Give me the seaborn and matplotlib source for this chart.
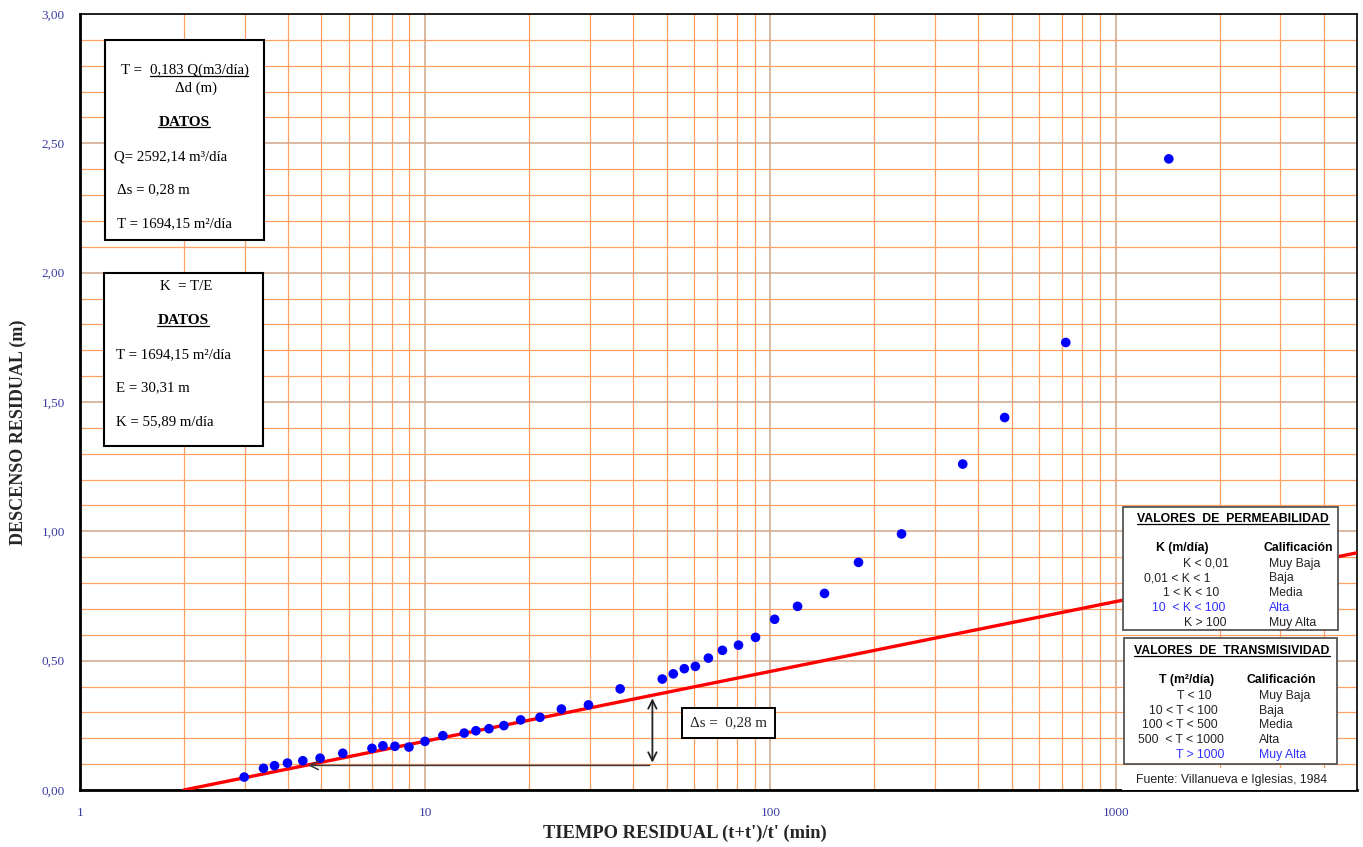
import matplotlib
matplotlib.use('Agg')
import matplotlib.pyplot as plt
import seaborn as sns
import pandas as pd
from matplotlib.ticker import FixedLocator, FuncFormatter, MultipleLocator, NullFormatter
from matplotlib.patches import Rectangle
from matplotlib.lines import Line2D

# ---------------- data ----------------
tiempo = [2.99, 3.40, 3.66, 3.99, 4.42, 4.96, 5.77, 7.01, 7.54, 8.17, 8.97, 9.98,
          11.25, 12.97, 14.02, 15.3, 16.9, 18.9, 21.5, 24.8, 29.7, 36.7, 48.6,
          52.3, 56.3, 60.6, 66.1, 72.6, 80.8, 90.5, 102.8, 119.8, 143.4, 179.9,
          239.7, 360.5, 476.8, 716.8, 1425.0]
descenso = [0.050, 0.084, 0.094, 0.104, 0.113, 0.123, 0.142, 0.161, 0.171, 0.169,
            0.166, 0.188, 0.210, 0.220, 0.229, 0.237, 0.249, 0.271, 0.281, 0.313,
            0.329, 0.391, 0.429, 0.449, 0.469, 0.478, 0.510, 0.540, 0.560, 0.590,
            0.660, 0.710, 0.760, 0.880, 0.990, 1.260, 1.440, 1.730, 2.440]
recta_x = [2.0, 5000.0]
recta_y = [0.0, 0.917]
delta_x = [4.5, 45.5]
delta_y = [0.095, 0.365]
x_ticks = [1, 10, 100, 1000]
x_ticklabels = ["1", "10", "100", "1000"]
y_ticks = [0.0, 0.5, 1.0, 1.5, 2.0, 2.5, 3.0]

perm_rangos = ["K < 0,01", "0,01 < K < 1", "1 < K < 10", "10  < K < 100", "K > 100"]
perm_calif = ["Muy Baja", "Baja", "Media", "Alta", "Muy Alta"]
trans_rangos = ["T < 10", "10 < T < 100", "100 < T < 500", "500  < T < 1000", "T > 1000"]
trans_calif = ["Muy Baja", "Baja", "Media", "Alta", "Muy Alta"]

# ---------------- style ----------------
sns.set_style("white")
plt.rcParams['font.family'] = ['Liberation Serif', 'DejaVu Serif']

W, H = 1363, 847
fig = plt.figure(figsize=(W / 100, H / 100), dpi=100)
AX_L, AX_R, AX_T, AX_B = 80, 1357, 14, 790
ax = fig.add_axes([AX_L / W, 1 - AX_B / H, (AX_R - AX_L) / W, (AX_B - AX_T) / H])


def axp(px, py):
    return ((px - AX_L) / (AX_R - AX_L), (AX_B - py) / (AX_B - AX_T))


ax.set_xscale('log')
ax.set_xlim(1, 5000)
ax.set_ylim(0, 3)

# grid
orange = '#FFA062'
brown = '#CFA587'
ax.xaxis.set_major_locator(FixedLocator(x_ticks))
ax.xaxis.set_minor_locator(FixedLocator([m * 10 ** e for e in range(0, 4) for m in range(2, 10) if m * 10 ** e < 5000]))
ax.xaxis.set_minor_formatter(NullFormatter())
ax.yaxis.set_major_locator(FixedLocator(y_ticks))
ax.yaxis.set_minor_locator(MultipleLocator(0.1))
ax.grid(which='major', color=brown, lw=1.1, zorder=0)
ax.grid(which='minor', color=orange, lw=0.9, zorder=0)
ax.set_axisbelow(True)

ax.xaxis.set_major_formatter(FuncFormatter(lambda v, p: x_ticklabels[x_ticks.index(int(round(v)))] if int(round(v)) in x_ticks else ""))
ax.yaxis.set_major_formatter(FuncFormatter(lambda v, p: f"{v:.2f}".replace('.', ',')))
ax.tick_params(which='both', length=0)
ax.tick_params(axis='y', pad=11, labelsize=9.5, labelcolor='#3B3BA0')
ax.tick_params(axis='x', pad=12, labelsize=9.5, labelcolor='#3B3BA0')

for s in ax.spines.values():
    s.set_color('black')
    s.set_linewidth(1.2)
ax.spines['left'].set_linewidth(2)
ax.spines['bottom'].set_linewidth(2)

# data
df_pts = pd.DataFrame({'t': tiempo, 's': descenso})
df_line = pd.DataFrame({'t': recta_x, 's': recta_y})
sns.lineplot(data=df_line, x='t', y='s', color='#FF0000', lw=2.4, ax=ax, zorder=3)
sns.scatterplot(data=df_pts, x='t', y='s', color='#0000FF', s=48, edgecolor='none', ax=ax, zorder=4)
ax.set_xlabel('')
ax.set_ylabel('')

# delta arrows
ax.annotate('', xy=(delta_x[0], delta_y[0]), xytext=(delta_x[1], delta_y[0]),
            arrowprops=dict(arrowstyle='->', color='#3A3A3A', lw=1.1, mutation_scale=15), zorder=5)
ax.annotate('', xy=(delta_x[1], delta_y[1]), xytext=(delta_x[1], delta_y[0]),
            arrowprops=dict(arrowstyle='<->', color='#222222', lw=1.3, mutation_scale=15), zorder=5)
ax.text(75.5, 0.259, "\u0394s =  0,28 m", fontsize=10.8, ha='center', va='center', zorder=6,
        bbox=dict(boxstyle='square,pad=0.55', fc='white', ec='black', lw=1.4))

# axis titles
fig.text(18 / W, 1 - 432 / H, "DESCENSO RESIDUAL (m)", rotation=90, ha='center', va='center',
         fontsize=13, fontweight='bold')
fig.text(685 / W, 1 - 833 / H, "TIEMPO RESIDUAL (t+t')/t' (min)", ha='center', va='center',
         fontsize=13.3, fontweight='bold')


def rect(px0, py0, px1, py1, ec='black', lw=1.5, z=6):
    x0, y1 = axp(px0, py0)
    x1, y0 = axp(px1, py1)
    ax.add_patch(Rectangle((x0, y0), x1 - x0, y1 - y0, transform=ax.transAxes,
                           fc='white', ec=ec, lw=lw, zorder=z, clip_on=False))


def txt(px, py, s, ha='left', size=10.7, weight='normal', color='black', family=None, z=7):
    x, y = axp(px, py)
    kw = {}
    if family:
        kw['family'] = family
    return ax.text(x, y, s, transform=ax.transAxes, ha=ha, va='center', fontsize=size,
                   fontweight=weight, color=color, zorder=z, **kw)


underlined = []

# left box 1
rect(105, 40, 264, 240)
txt(121, 70, "T =")
underlined.append(txt(199, 70, "0,183 Q(m3/d\u00eda)", ha='center'))
txt(196, 88, "\u0394d (m)", ha='center')
underlined.append(txt(184, 122, "DATOS", ha='center', weight='bold', size=11))
txt(114, 157, "Q= 2592,14 m\u00b3/d\u00eda")
txt(117, 190, "\u0394s = 0,28 m")
txt(117, 224, "T = 1694,15 m\u00b2/d\u00eda")

# left box 2
rect(104, 273, 263, 446)
txt(186, 286, "K  = T/E", ha='center')
underlined.append(txt(183, 320, "DATOS", ha='center', weight='bold', size=11))
txt(116, 355, "T = 1694,15 m\u00b2/d\u00eda")
txt(116, 388, "E = 30,31 m")
txt(116, 422, "K = 55,89 m/d\u00eda")

# right boxes
sans = ['Liberation Sans', 'DejaVu Sans']
blue = '#2F2FFF'
fs = 8.8
rect(1122, 768, 1356, 790, ec='none', lw=0, z=5)
rect(1123, 507, 1338, 630, ec='#555555', lw=1.3)
rect(1124, 638, 1337, 764, ec='#555555', lw=1.3)

underlined.append(txt(1233, 519, "VALORES  DE  PERMEABILIDAD", ha='center', weight='bold', size=fs, family=sans))
txt(1182, 548, "K (m/d\u00eda)", ha='center', weight='bold', size=fs, family=sans)
txt(1298, 548, "Calificaci\u00f3n", ha='center', weight='bold', size=fs, family=sans)
perm_cx = [1206, 1177, 1191, 1189, 1205]
perm_y = [564, 578, 593, 608, 623]
for i, (r, c) in enumerate(zip(perm_rangos, perm_calif)):
    col = blue if i == 3 else '#222222'
    txt(perm_cx[i], perm_y[i], r, ha='center', size=fs, color=col, family=sans)
    txt(1269, perm_y[i], c, ha='left', size=fs, color=col, family=sans)

underlined.append(txt(1232, 651, "VALORES  DE  TRANSMISIVIDAD", ha='center', weight='bold', size=fs, family=sans))
txt(1187, 680, "T (m\u00b2/d\u00eda)", ha='center', weight='bold', size=fs, family=sans)
txt(1281, 680, "Calificaci\u00f3n", ha='center', weight='bold', size=fs, family=sans)
trans_cx = [1194, 1183, 1180, 1181, 1200]
trans_y = [696, 711, 725, 740, 755]
for i, (r, c) in enumerate(zip(trans_rangos, trans_calif)):
    col = blue if i == 4 else '#222222'
    txt(trans_cx[i], trans_y[i], r, ha='center', size=fs, color=col, family=sans)
    txt(1259, trans_y[i], c, ha='left', size=fs, color=col, family=sans)

txt(1232, 780, "Fuente: Villanueva e Iglesias, 1984", ha='center', size=fs, color='#222222', family=sans)

# underlines
fig.canvas.draw()
r = fig.canvas.get_renderer()
for t in underlined:
    bb = t.get_window_extent(renderer=r)
    yline = bb.y0 + 1
    fig.add_artist(Line2D([bb.x0 / W, bb.x1 / W], [yline / H, yline / H],
                          transform=fig.transFigure, color=t.get_color(), lw=0.9, zorder=10))

fig.savefig('out.png', dpi=100)
